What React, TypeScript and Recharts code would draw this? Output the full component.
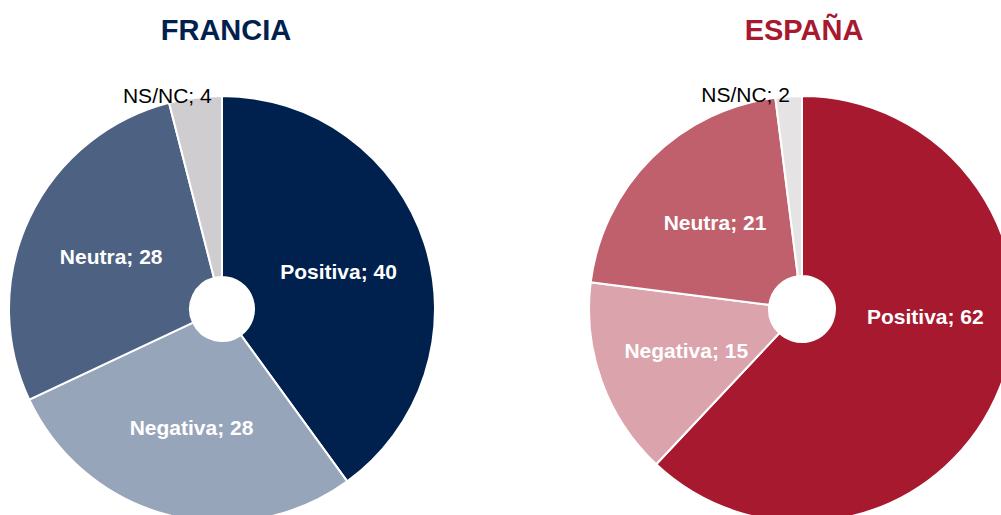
import React from "react";
import { PieChart, Pie, Cell } from "recharts";

const categories = ["Positiva", "Negativa", "Neutra", "NS/NC"];
const franciaValues = [40, 28, 28, 4];
const espanaValues = [62, 15, 21, 2];
const franciaTitle = "FRANCIA";
const espanaTitle = "ESPAÑA";

const franciaColors = ["#00214e", "#97a5ba", "#4d6182", "#d0cdd0"];
const espanaColors = ["#a6192e", "#dba3ac", "#c0606d", "#e5e3e3"];

const franciaData = categories.map((name, i) => ({ name, value: franciaValues[i] }));
const espanaData = categories.map((name, i) => ({ name, value: espanaValues[i] }));

const RAD = Math.PI / 180;
const FONT = "'Liberation Sans', Arial, sans-serif";

// label offsets (style only), keyed by category index
const franciaOffsets: Record<number, [number, number]> = { 3: [-28, -2] };
const espanaOffsets: Record<number, [number, number]> = { 0: [9, -38], 3: [-43, -2] };

function makeLabel(offsets: Record<number, [number, number]>) {
  return (props: any) => {
    const { cx, cy, midAngle, innerRadius, outerRadius, index, name, value } = props;
    const isOutside = index === 3;
    const r = isOutside ? outerRadius : (innerRadius + outerRadius) / 2;
    const x0 = cx + r * Math.cos(-midAngle * RAD);
    const y0 = cy + r * Math.sin(-midAngle * RAD);
    const off = offsets[index] || [0, 0];
    return (
      <text
        x={x0 + off[0]}
        y={y0 + off[1]}
        textAnchor="middle"
        dominantBaseline="central"
        fill={isOutside ? "#000000" : "#ffffff"}
        fontWeight={isOutside ? "normal" : "bold"}
        fontSize={21}
        fontFamily={FONT}
      >
        {`${name}; ${value}`}
      </text>
    );
  };
}

export default function App() {
  return (
    <div
      style={{
        position: "fixed",
        left: 0,
        top: 0,
        width: 1001,
        height: 515,
        background: "#ffffff",
        overflow: "hidden",
      }}
    >
      <div
        style={{
          position: "absolute",
          left: 126,
          width: 200,
          top: 11,
          textAlign: "center",
          fontFamily: FONT,
          fontWeight: "bold",
          fontSize: 29,
          lineHeight: "38px",
          color: "#00214e",
        }}
      >
        {franciaTitle}
      </div>
      <div
        style={{
          position: "absolute",
          left: 704,
          width: 200,
          top: 11,
          textAlign: "center",
          fontFamily: FONT,
          fontWeight: "bold",
          fontSize: 29,
          lineHeight: "38px",
          color: "#a6192e",
        }}
      >
        {espanaTitle}
      </div>
      <div style={{ position: "absolute", left: 0, top: 0 }}>
        <PieChart
          width={1001}
          height={515}
          margin={{ top: 0, right: 0, bottom: 0, left: 0 }}
          style={{ overflow: "visible" }}
        >
          <Pie
            data={franciaData}
            dataKey="value"
            nameKey="name"
            cx={222}
            cy={309}
            innerRadius={32}
            outerRadius={213}
            startAngle={90}
            endAngle={-270}
            stroke="#ffffff"
            strokeWidth={2}
            labelLine={false}
            label={makeLabel(franciaOffsets)}
            isAnimationActive={false}
          >
            {franciaData.map((d, i) => (
              <Cell key={d.name} fill={franciaColors[i]} />
            ))}
          </Pie>
          <Pie
            data={espanaData}
            dataKey="value"
            nameKey="name"
            cx={802}
            cy={309}
            innerRadius={33}
            outerRadius={213}
            startAngle={90}
            endAngle={-270}
            stroke="#ffffff"
            strokeWidth={2}
            labelLine={false}
            label={makeLabel(espanaOffsets)}
            isAnimationActive={false}
          >
            {espanaData.map((d, i) => (
              <Cell key={d.name} fill={espanaColors[i]} />
            ))}
          </Pie>
        </PieChart>
      </div>
    </div>
  );
}
